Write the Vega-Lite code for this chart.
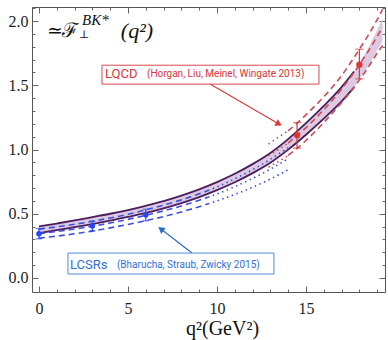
{
  "$schema": "https://vega.github.io/schema/vega-lite/v6.json",
  "width": 353,
  "height": 285,
  "autosize": {"type": "none"},
  "padding": {"left": 32, "top": 7, "right": 3, "bottom": 48},
  "background": "white",
  "config": {
    "view": {"stroke": "#555", "strokeWidth": 1},
    "axis": {"domain": false, "grid": false, "tickColor": "#666", "tickWidth": 1, "labelFont": "Liberation Serif", "labelFontSize": 16, "labelColor": "#222"}
  },
  "datasets": {
    "band": [
      {"q2": 0, "lo": 0.349, "hi": 0.401},
      {"q2": 1, "lo": 0.372, "hi": 0.424},
      {"q2": 2, "lo": 0.396, "hi": 0.448},
      {"q2": 3, "lo": 0.420, "hi": 0.474},
      {"q2": 4, "lo": 0.446, "hi": 0.500},
      {"q2": 5, "lo": 0.475, "hi": 0.529},
      {"q2": 6, "lo": 0.506, "hi": 0.562},
      {"q2": 7, "lo": 0.542, "hi": 0.598},
      {"q2": 8, "lo": 0.583, "hi": 0.641},
      {"q2": 9, "lo": 0.630, "hi": 0.690},
      {"q2": 10, "lo": 0.684, "hi": 0.746},
      {"q2": 11, "lo": 0.745, "hi": 0.811},
      {"q2": 12, "lo": 0.816, "hi": 0.886},
      {"q2": 13, "lo": 0.897, "hi": 0.973},
      {"q2": 14, "lo": 0.999, "hi": 1.081},
      {"q2": 15, "lo": 1.115, "hi": 1.205},
      {"q2": 16, "lo": 1.240, "hi": 1.340},
      {"q2": 17, "lo": 1.374, "hi": 1.486},
      {"q2": 17.7, "lo": 1.483, "hi": 1.607},
      {"q2": 18, "lo": 1.544, "hi": 1.676},
      {"q2": 18.5, "lo": 1.648, "hi": 1.792},
      {"q2": 19, "lo": 1.770, "hi": 1.930},
      {"q2": 19.3, "lo": 1.845, "hi": 2.015}
    ],
    "lines": [
      {"src": "LCSR", "part": "lower", "seg": "fit", "q2": 0, "v": 0.310},
      {"src": "LCSR", "part": "lower", "seg": "fit", "q2": 1, "v": 0.326},
      {"src": "LCSR", "part": "lower", "seg": "fit", "q2": 2, "v": 0.344},
      {"src": "LCSR", "part": "lower", "seg": "fit", "q2": 3, "v": 0.365},
      {"src": "LCSR", "part": "lower", "seg": "fit", "q2": 4, "v": 0.390},
      {"src": "LCSR", "part": "lower", "seg": "fit", "q2": 5, "v": 0.417},
      {"src": "LCSR", "part": "lower", "seg": "fit", "q2": 6, "v": 0.446},
      {"src": "LCSR", "part": "lower", "seg": "fit", "q2": 7, "v": 0.478},
      {"src": "LCSR", "part": "lower", "seg": "fit", "q2": 8, "v": 0.514},
      {"src": "LCSR", "part": "lower", "seg": "fit", "q2": 9, "v": 0.555},
      {"src": "LCSR", "part": "lower", "seg": "fit", "q2": 9.5, "v": 0.577},
      {"src": "LCSR", "part": "lower", "seg": "extrap", "q2": 9.5, "v": 0.577},
      {"src": "LCSR", "part": "lower", "seg": "extrap", "q2": 10, "v": 0.600},
      {"src": "LCSR", "part": "lower", "seg": "extrap", "q2": 11, "v": 0.650},
      {"src": "LCSR", "part": "lower", "seg": "extrap", "q2": 12, "v": 0.706},
      {"src": "LCSR", "part": "lower", "seg": "extrap", "q2": 13, "v": 0.770},
      {"src": "LCSR", "part": "lower", "seg": "extrap", "q2": 14, "v": 0.842},
      {"src": "LCSR", "part": "central", "seg": "fit", "q2": 0, "v": 0.345},
      {"src": "LCSR", "part": "central", "seg": "fit", "q2": 1, "v": 0.362},
      {"src": "LCSR", "part": "central", "seg": "fit", "q2": 2, "v": 0.381},
      {"src": "LCSR", "part": "central", "seg": "fit", "q2": 3, "v": 0.403},
      {"src": "LCSR", "part": "central", "seg": "fit", "q2": 4, "v": 0.428},
      {"src": "LCSR", "part": "central", "seg": "fit", "q2": 5, "v": 0.456},
      {"src": "LCSR", "part": "central", "seg": "fit", "q2": 6, "v": 0.488},
      {"src": "LCSR", "part": "central", "seg": "fit", "q2": 7, "v": 0.522},
      {"src": "LCSR", "part": "central", "seg": "fit", "q2": 8, "v": 0.561},
      {"src": "LCSR", "part": "central", "seg": "fit", "q2": 9, "v": 0.605},
      {"src": "LCSR", "part": "central", "seg": "fit", "q2": 9.5, "v": 0.629},
      {"src": "LCSR", "part": "central", "seg": "extrap", "q2": 9.5, "v": 0.629},
      {"src": "LCSR", "part": "central", "seg": "extrap", "q2": 10, "v": 0.654},
      {"src": "LCSR", "part": "central", "seg": "extrap", "q2": 11, "v": 0.711},
      {"src": "LCSR", "part": "central", "seg": "extrap", "q2": 12, "v": 0.775},
      {"src": "LCSR", "part": "central", "seg": "extrap", "q2": 13, "v": 0.847},
      {"src": "LCSR", "part": "central", "seg": "extrap", "q2": 14, "v": 0.928},
      {"src": "LCSR", "part": "upper", "seg": "fit", "q2": 0, "v": 0.380},
      {"src": "LCSR", "part": "upper", "seg": "fit", "q2": 1, "v": 0.398},
      {"src": "LCSR", "part": "upper", "seg": "fit", "q2": 2, "v": 0.418},
      {"src": "LCSR", "part": "upper", "seg": "fit", "q2": 3, "v": 0.441},
      {"src": "LCSR", "part": "upper", "seg": "fit", "q2": 4, "v": 0.467},
      {"src": "LCSR", "part": "upper", "seg": "fit", "q2": 5, "v": 0.496},
      {"src": "LCSR", "part": "upper", "seg": "fit", "q2": 6, "v": 0.530},
      {"src": "LCSR", "part": "upper", "seg": "fit", "q2": 7, "v": 0.567},
      {"src": "LCSR", "part": "upper", "seg": "fit", "q2": 8, "v": 0.608},
      {"src": "LCSR", "part": "upper", "seg": "fit", "q2": 9, "v": 0.655},
      {"src": "LCSR", "part": "upper", "seg": "fit", "q2": 9.5, "v": 0.681},
      {"src": "LCSR", "part": "upper", "seg": "extrap", "q2": 9.5, "v": 0.681},
      {"src": "LCSR", "part": "upper", "seg": "extrap", "q2": 10, "v": 0.709},
      {"src": "LCSR", "part": "upper", "seg": "extrap", "q2": 11, "v": 0.772},
      {"src": "LCSR", "part": "upper", "seg": "extrap", "q2": 12, "v": 0.843},
      {"src": "LCSR", "part": "upper", "seg": "extrap", "q2": 13, "v": 0.924},
      {"src": "LCSR", "part": "upper", "seg": "extrap", "q2": 14, "v": 1.014},
      {"src": "LQCD", "part": "lower", "seg": "extrap", "q2": 12.9, "v": 0.862},
      {"src": "LQCD", "part": "lower", "seg": "extrap", "q2": 13.5, "v": 0.910},
      {"src": "LQCD", "part": "lower", "seg": "extrap", "q2": 14, "v": 0.955},
      {"src": "LQCD", "part": "lower", "seg": "fit", "q2": 14, "v": 0.955},
      {"src": "LQCD", "part": "lower", "seg": "fit", "q2": 14.5, "v": 1.010},
      {"src": "LQCD", "part": "lower", "seg": "fit", "q2": 15, "v": 1.070},
      {"src": "LQCD", "part": "lower", "seg": "fit", "q2": 16, "v": 1.210},
      {"src": "LQCD", "part": "lower", "seg": "fit", "q2": 17, "v": 1.365},
      {"src": "LQCD", "part": "lower", "seg": "fit", "q2": 18, "v": 1.540},
      {"src": "LQCD", "part": "lower", "seg": "fit", "q2": 18.5, "v": 1.640},
      {"src": "LQCD", "part": "lower", "seg": "fit", "q2": 19, "v": 1.750},
      {"src": "LQCD", "part": "lower", "seg": "fit", "q2": 19.3, "v": 1.810},
      {"src": "LQCD", "part": "central", "seg": "extrap", "q2": 12.9, "v": 0.952},
      {"src": "LQCD", "part": "central", "seg": "extrap", "q2": 13.5, "v": 1.005},
      {"src": "LQCD", "part": "central", "seg": "extrap", "q2": 14, "v": 1.050},
      {"src": "LQCD", "part": "central", "seg": "fit", "q2": 14, "v": 1.050},
      {"src": "LQCD", "part": "central", "seg": "fit", "q2": 14.5, "v": 1.110},
      {"src": "LQCD", "part": "central", "seg": "fit", "q2": 15, "v": 1.170},
      {"src": "LQCD", "part": "central", "seg": "fit", "q2": 16, "v": 1.310},
      {"src": "LQCD", "part": "central", "seg": "fit", "q2": 17, "v": 1.470},
      {"src": "LQCD", "part": "central", "seg": "fit", "q2": 18, "v": 1.660},
      {"src": "LQCD", "part": "central", "seg": "fit", "q2": 18.5, "v": 1.765},
      {"src": "LQCD", "part": "central", "seg": "fit", "q2": 19, "v": 1.880},
      {"src": "LQCD", "part": "central", "seg": "fit", "q2": 19.3, "v": 1.950},
      {"src": "LQCD", "part": "upper", "seg": "extrap", "q2": 12.9, "v": 1.042},
      {"src": "LQCD", "part": "upper", "seg": "extrap", "q2": 13.5, "v": 1.100},
      {"src": "LQCD", "part": "upper", "seg": "extrap", "q2": 14, "v": 1.145},
      {"src": "LQCD", "part": "upper", "seg": "fit", "q2": 14, "v": 1.145},
      {"src": "LQCD", "part": "upper", "seg": "fit", "q2": 14.5, "v": 1.205},
      {"src": "LQCD", "part": "upper", "seg": "fit", "q2": 15, "v": 1.270},
      {"src": "LQCD", "part": "upper", "seg": "fit", "q2": 16, "v": 1.410},
      {"src": "LQCD", "part": "upper", "seg": "fit", "q2": 17, "v": 1.575},
      {"src": "LQCD", "part": "upper", "seg": "fit", "q2": 18, "v": 1.780},
      {"src": "LQCD", "part": "upper", "seg": "fit", "q2": 18.5, "v": 1.890},
      {"src": "LQCD", "part": "upper", "seg": "fit", "q2": 19, "v": 2.010},
      {"src": "LQCD", "part": "upper", "seg": "fit", "q2": 19.3, "v": 2.090}
    ],
    "points": [
      {"src": "LCSR", "q2": 0, "v": 0.345, "lo": 0.305, "hi": 0.385},
      {"src": "LCSR", "q2": 3, "v": 0.405, "lo": 0.368, "hi": 0.442},
      {"src": "LCSR", "q2": 6, "v": 0.490, "lo": 0.445, "hi": 0.535},
      {"src": "LQCD", "q2": 14.5, "v": 1.110, "lo": 1.010, "hi": 1.210},
      {"src": "LQCD", "q2": 18, "v": 1.660, "lo": 1.550, "hi": 1.780}
    ],
    "boxes": [
      {"src": "LQCD", "x1": 3.54, "x2": 15.73, "y1": 1.509, "y2": 1.656},
      {"src": "LCSR", "x1": 1.63, "x2": 13.2, "y1": 0.031, "y2": 0.194}
    ],
    "labels": [
      {"src": "LQCD", "kind": "name", "q2": 3.71, "v": 1.586, "text": "LQCD"},
      {"src": "LQCD", "kind": "ref", "q2": 6.07, "v": 1.586, "text": "(Horgan, Liu, Meinel, Wingate 2013)"},
      {"src": "LCSR", "kind": "name", "q2": 1.74, "v": 0.101, "text": "LCSRs"},
      {"src": "LCSR", "kind": "ref", "q2": 4.38, "v": 0.101, "text": "(Bharucha, Straub, Zwicky 2015)"}
    ],
    "arrows": [
      {"src": "LQCD", "x1": 9.61, "y1": 1.509, "x2": 13.48, "y2": 1.198, "angle": 29},
      {"src": "LCSR", "x1": 8.60, "y1": 0.194, "x2": 6.85, "y2": 0.381, "angle": 217}
    ]
  },
  "resolve": {"axis": {"x": "independent", "y": "independent"}},
  "layer": [
    {
      "data": {"name": "band"},
      "mark": {"type": "area", "interpolate": "monotone", "color": "#dccae2"},
      "encoding": {
        "x": {"field": "q2", "type": "quantitative", "scale": {"domain": [-0.39, 19.44], "nice": false, "zero": false},
              "axis": {"orient": "bottom", "values": [0, 5, 10, 15], "tickSize": -6, "labelPadding": 14, "title": "q²(GeV²)", "titleFont": "Liberation Serif", "titleFontSize": 20, "titleFontWeight": "normal", "titleColor": "#111", "titleX": 190, "titleY": 42, "titleBaseline": "alphabetic", "titleAlign": "center"}},
        "y": {"field": "lo", "type": "quantitative", "scale": {"domain": [-0.109, 2.109], "nice": false, "zero": false},
              "axis": {"orient": "left", "values": [0, 0.5, 1, 1.5, 2], "format": ".1f", "tickSize": -6, "labelPadding": 10, "title": null}},
        "y2": {"field": "hi"}
      }
    },
    {
      "data": {"name": "band"},
      "transform": [{"filter": "datum.q2 <= 17.7"}],
      "mark": {"type": "line", "interpolate": "monotone", "color": "#4a1d5c", "strokeWidth": 1.8},
      "encoding": {
        "x": {"field": "q2", "type": "quantitative", "axis": {"orient": "bottom", "values": [0,1,2,3,4,5,6,7,8,9,10,11,12,13,14,15,16,17,18,19], "tickSize": -3, "labels": false, "title": null}},
        "y": {"field": "hi", "type": "quantitative", "axis": {"orient": "left", "values": [0,0.1,0.2,0.3,0.4,0.5,0.6,0.7,0.8,0.9,1,1.1,1.2,1.3,1.4,1.5,1.6,1.7,1.8,1.9,2,2.1], "tickSize": -3, "labels": false, "title": null}}
      }
    },
    {
      "data": {"name": "band"},
      "transform": [{"filter": "datum.q2 <= 17.7"}],
      "mark": {"type": "line", "interpolate": "monotone", "color": "#4a1d5c", "strokeWidth": 1.8},
      "encoding": {
        "x": {"field": "q2", "type": "quantitative", "axis": {"orient": "top", "values": [0, 5, 10, 15], "tickSize": -6, "labels": false, "title": null}},
        "y": {"field": "lo", "type": "quantitative", "axis": {"orient": "right", "values": [0, 0.5, 1, 1.5, 2], "tickSize": -6, "labels": false, "title": null}}
      }
    },
    {
      "data": {"name": "lines"},
      "transform": [{"filter": "datum.src == 'LCSR'"}],
      "mark": {"type": "line", "interpolate": "monotone", "color": "#3f4fdc", "strokeWidth": 1.6},
      "encoding": {
        "x": {"field": "q2", "type": "quantitative", "axis": {"orient": "top", "values": [0,1,2,3,4,5,6,7,8,9,10,11,12,13,14,15,16,17,18,19], "tickSize": -3, "labels": false, "title": null}},
        "y": {"field": "v", "type": "quantitative", "axis": {"orient": "right", "values": [0,0.1,0.2,0.3,0.4,0.5,0.6,0.7,0.8,0.9,1,1.1,1.2,1.3,1.4,1.5,1.6,1.7,1.8,1.9,2,2.1], "tickSize": -3, "labels": false, "title": null}},
        "detail": {"field": "part", "type": "nominal"},
        "strokeDash": {"field": "seg", "type": "nominal", "scale": {"domain": ["fit", "extrap"], "range": [[6, 4], [1.5, 3.5]]}, "legend": null}
      }
    },
    {
      "data": {"name": "lines"},
      "transform": [{"filter": "datum.src == 'LQCD'"}],
      "mark": {"type": "line", "interpolate": "monotone", "color": "#cc4a55", "strokeWidth": 1.6},
      "encoding": {
        "x": {"field": "q2", "type": "quantitative", "axis": null},
        "y": {"field": "v", "type": "quantitative", "axis": null},
        "detail": {"field": "part", "type": "nominal"},
        "strokeDash": {"field": "seg", "type": "nominal", "legend": null}
      }
    },
    {
      "data": {"name": "points"},
      "transform": [{"filter": "datum.src == 'LCSR'"}],
      "mark": {"type": "errorbar", "ticks": {"size": 6, "color": "#2a45f0"}, "color": "#2a45f0", "thickness": 1.2},
      "encoding": {
        "x": {"field": "q2", "type": "quantitative", "axis": null},
        "y": {"field": "lo", "type": "quantitative", "axis": null},
        "y2": {"field": "hi"}
      }
    },
    {
      "data": {"name": "points"},
      "transform": [{"filter": "datum.src == 'LCSR'"}],
      "mark": {"type": "circle", "color": "#2a45f0", "opacity": 1, "size": 30},
      "encoding": {
        "x": {"field": "q2", "type": "quantitative", "axis": null},
        "y": {"field": "v", "type": "quantitative", "axis": null}
      }
    },
    {
      "data": {"name": "points"},
      "transform": [{"filter": "datum.src == 'LQCD'"}],
      "mark": {"type": "errorbar", "ticks": {"size": 8, "color": "#e03535"}, "color": "#e03535", "thickness": 1.2},
      "encoding": {
        "x": {"field": "q2", "type": "quantitative", "axis": null},
        "y": {"field": "lo", "type": "quantitative", "axis": null},
        "y2": {"field": "hi"}
      }
    },
    {
      "data": {"name": "points"},
      "transform": [{"filter": "datum.src == 'LQCD'"}],
      "mark": {"type": "circle", "color": "#e03535", "opacity": 1, "size": 40},
      "encoding": {
        "x": {"field": "q2", "type": "quantitative", "axis": null},
        "y": {"field": "v", "type": "quantitative", "axis": null}
      }
    },
    {
      "data": {"name": "arrows"},
      "transform": [{"filter": "datum.src == 'LQCD'"}],
      "mark": {"type": "rule", "color": "#d83a3a", "strokeWidth": 1.2},
      "encoding": {
        "x": {"field": "x1", "type": "quantitative", "axis": null},
        "y": {"field": "y1", "type": "quantitative", "axis": null},
        "x2": {"field": "x2"},
        "y2": {"field": "y2"}
      }
    },
    {
      "data": {"name": "arrows"},
      "transform": [{"filter": "datum.src == 'LQCD'"}],
      "mark": {"type": "point", "shape": "triangle-right", "filled": true, "color": "#d83a3a", "opacity": 1, "size": 55},
      "encoding": {
        "x": {"field": "x2", "type": "quantitative", "axis": null},
        "y": {"field": "y2", "type": "quantitative", "axis": null},
        "angle": {"field": "angle", "type": "quantitative", "scale": null}
      }
    },
    {
      "data": {"name": "arrows"},
      "transform": [{"filter": "datum.src == 'LCSR'"}],
      "mark": {"type": "rule", "color": "#2b6fca", "strokeWidth": 1.2},
      "encoding": {
        "x": {"field": "x1", "type": "quantitative", "axis": null},
        "y": {"field": "y1", "type": "quantitative", "axis": null},
        "x2": {"field": "x2"},
        "y2": {"field": "y2"}
      }
    },
    {
      "data": {"name": "arrows"},
      "transform": [{"filter": "datum.src == 'LCSR'"}],
      "mark": {"type": "point", "shape": "triangle-right", "filled": true, "color": "#2b6fca", "opacity": 1, "size": 55},
      "encoding": {
        "x": {"field": "x2", "type": "quantitative", "axis": null},
        "y": {"field": "y2", "type": "quantitative", "axis": null},
        "angle": {"field": "angle", "type": "quantitative", "scale": null}
      }
    },
    {
      "data": {"name": "boxes"},
      "transform": [{"filter": "datum.src == 'LQCD'"}],
      "mark": {"type": "rect", "fill": "white", "stroke": "#d9484f", "strokeWidth": 1},
      "encoding": {
        "x": {"field": "x1", "type": "quantitative", "axis": null},
        "x2": {"field": "x2"},
        "y": {"field": "y1", "type": "quantitative", "axis": null},
        "y2": {"field": "y2"}
      }
    },
    {
      "data": {"name": "boxes"},
      "transform": [{"filter": "datum.src == 'LCSR'"}],
      "mark": {"type": "rect", "fill": "white", "stroke": "#4f8ade", "strokeWidth": 1},
      "encoding": {
        "x": {"field": "x1", "type": "quantitative", "axis": null},
        "x2": {"field": "x2"},
        "y": {"field": "y1", "type": "quantitative", "axis": null},
        "y2": {"field": "y2"}
      }
    },
    {
      "data": {"name": "labels"},
      "transform": [{"filter": "datum.src == 'LQCD' && datum.kind == 'name'"}],
      "mark": {"type": "text", "align": "left", "baseline": "middle", "font": "Roboto", "fontSize": 13, "color": "#d8343c"},
      "encoding": {
        "x": {"field": "q2", "type": "quantitative", "axis": null},
        "y": {"field": "v", "type": "quantitative", "axis": null},
        "text": {"field": "text"}
      }
    },
    {
      "data": {"name": "labels"},
      "transform": [{"filter": "datum.src == 'LQCD' && datum.kind == 'ref'"}],
      "mark": {"type": "text", "align": "left", "baseline": "middle", "font": "Roboto", "fontSize": 10, "color": "#d8343c"},
      "encoding": {
        "x": {"field": "q2", "type": "quantitative", "axis": null},
        "y": {"field": "v", "type": "quantitative", "axis": null},
        "text": {"field": "text"}
      }
    },
    {
      "data": {"name": "labels"},
      "transform": [{"filter": "datum.src == 'LCSR' && datum.kind == 'name'"}],
      "mark": {"type": "text", "align": "left", "baseline": "middle", "font": "Roboto", "fontSize": 13, "color": "#2f6fd6"},
      "encoding": {
        "x": {"field": "q2", "type": "quantitative", "axis": null},
        "y": {"field": "v", "type": "quantitative", "axis": null},
        "text": {"field": "text"}
      }
    },
    {
      "data": {"name": "labels"},
      "transform": [{"filter": "datum.src == 'LCSR' && datum.kind == 'ref'"}],
      "mark": {"type": "text", "align": "left", "baseline": "middle", "font": "Roboto", "fontSize": 10, "color": "#2f6fd6"},
      "encoding": {
        "x": {"field": "q2", "type": "quantitative", "axis": null},
        "y": {"field": "v", "type": "quantitative", "axis": null},
        "text": {"field": "text"}
      }
    },
    {
      "data": {"values": [{"q2": 0.45, "v": 1.874, "t": "≃"}]},
      "mark": {"type": "text", "align": "left", "baseline": "alphabetic", "font": "DejaVu Serif", "fontSize": 19, "color": "#111"},
      "encoding": {
        "x": {"field": "q2", "type": "quantitative", "axis": null},
        "y": {"field": "v", "type": "quantitative", "axis": null},
        "text": {"field": "t"}
      }
    },
    {
      "data": {"values": [{"q2": 1.29, "v": 1.874, "t": "ℱ"}]},
      "mark": {"type": "text", "align": "left", "baseline": "alphabetic", "font": "DejaVu Serif", "fontSize": 20, "color": "#111"},
      "encoding": {
        "x": {"field": "q2", "type": "quantitative", "axis": null},
        "y": {"field": "v", "type": "quantitative", "axis": null},
        "text": {"field": "t"}
      }
    },
    {
      "data": {"values": [{"q2": 2.25, "v": 1.866, "t": "⊥"}]},
      "mark": {"type": "text", "align": "left", "baseline": "alphabetic", "font": "DejaVu Serif", "fontSize": 11, "color": "#111"},
      "encoding": {
        "x": {"field": "q2", "type": "quantitative", "axis": null},
        "y": {"field": "v", "type": "quantitative", "axis": null},
        "text": {"field": "t"}
      }
    },
    {
      "data": {"values": [{"q2": 2.42, "v": 1.967, "t": "BK*"}]},
      "mark": {"type": "text", "align": "left", "baseline": "alphabetic", "font": "Liberation Serif", "fontStyle": "italic", "fontSize": 15, "color": "#111"},
      "encoding": {
        "x": {"field": "q2", "type": "quantitative", "axis": null},
        "y": {"field": "v", "type": "quantitative", "axis": null},
        "text": {"field": "t"}
      }
    },
    {
      "data": {"values": [{"q2": 4.6, "v": 1.866, "t": "(q²)"}]},
      "mark": {"type": "text", "align": "left", "baseline": "alphabetic", "font": "Liberation Serif", "fontStyle": "italic", "fontSize": 22, "color": "#111"},
      "encoding": {
        "x": {"field": "q2", "type": "quantitative", "axis": null},
        "y": {"field": "v", "type": "quantitative", "axis": null},
        "text": {"field": "t"}
      }
    }
  ]
}
